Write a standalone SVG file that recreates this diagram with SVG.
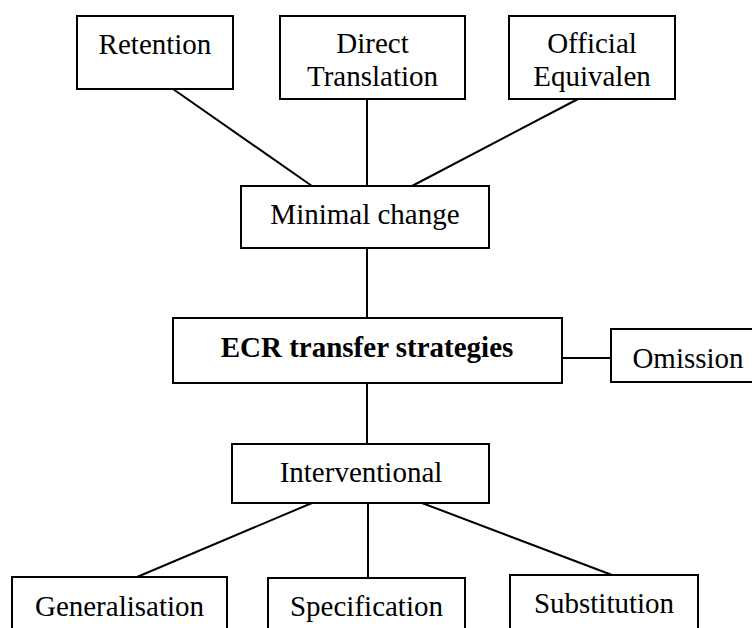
<svg xmlns="http://www.w3.org/2000/svg" width="752" height="628" viewBox="0 0 752 628">
<style>
.box{fill:#fff;stroke:#000;stroke-width:2}
.t{font-family:"Liberation Serif","Times New Roman",serif;font-size:29px;fill:#000;text-anchor:middle}
.b{font-weight:bold}
.c{stroke:#000;stroke-width:2;fill:none}
</style>
<rect width="752" height="628" fill="#fff"/>
<g id="connectors">
<line class="c" x1="173" y1="89" x2="312" y2="186"/>
<line class="c" x1="367" y1="99" x2="367" y2="186"/>
<line class="c" x1="578" y1="99" x2="412" y2="186"/>
<line class="c" x1="367" y1="248" x2="367" y2="318"/>
<line class="c" x1="562" y1="358" x2="611" y2="358"/>
<line class="c" x1="367" y1="383" x2="367" y2="444"/>
<line class="c" x1="312" y1="503" x2="137" y2="577"/>
<line class="c" x1="368" y1="503" x2="368" y2="577"/>
<line class="c" x1="422" y1="503" x2="612" y2="575"/>
</g>
<g id="retention">
<rect class="box" x="77" y="16" width="156" height="73"/>
<text class="t" x="155" y="54">Retention</text>
</g>
<g id="direct-translation">
<rect class="box" x="280" y="16" width="185" height="83"/>
<text class="t" x="372.5" y="53">Direct</text>
<text class="t" x="372.5" y="86">Translation</text>
</g>
<g id="official-equivalent">
<rect class="box" x="509" y="16" width="166" height="83"/>
<text class="t" x="592" y="53">Official</text>
<text class="t" x="592" y="86">Equivalen</text>
</g>
<g id="minimal-change">
<rect class="box" x="241" y="186" width="248" height="62"/>
<text class="t" x="365" y="224">Minimal change</text>
</g>
<g id="ecr">
<rect class="box" x="173" y="318" width="389" height="65"/>
<text class="t b" x="367" y="357">ECR transfer strategies</text>
</g>
<g id="omission">
<rect class="box" x="611" y="329" width="160" height="53"/>
<text class="t" x="688" y="368">Omission</text>
</g>
<g id="interventional">
<rect class="box" x="232" y="444" width="257" height="59"/>
<text class="t" x="361" y="482">Interventional</text>
</g>
<g id="generalisation">
<rect class="box" x="12" y="577" width="215" height="80"/>
<text class="t" x="119.5" y="616">Generalisation</text>
</g>
<g id="specification">
<rect class="box" x="268" y="578" width="197" height="80"/>
<text class="t" x="366.5" y="616">Specification</text>
</g>
<g id="substitution">
<rect class="box" x="510" y="575" width="188" height="80"/>
<text class="t" x="604" y="613">Substitution</text>
</g>
</svg>
